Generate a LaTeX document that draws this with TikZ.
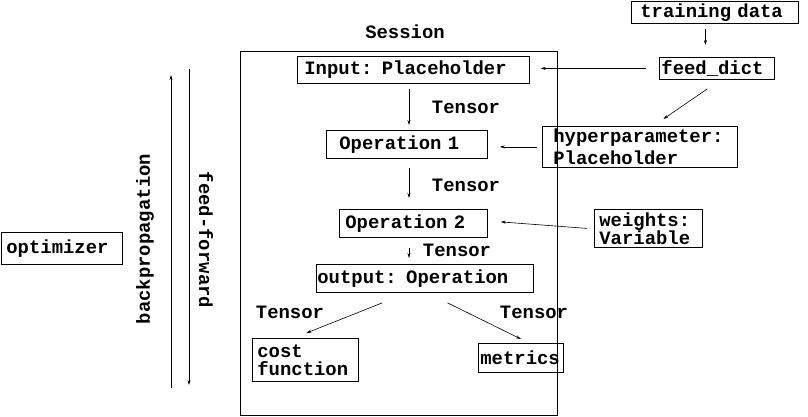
\documentclass[tikz,border=0pt]{standalone}
\usepackage{fontspec}
\newfontfamily\cf{Liberation Mono}
\usetikzlibrary{arrows.meta}
\newcommand{\cfont}[1]{\cf\bfseries\fontsize{18.9}{#1}\selectfont\spaceskip=11.34pt\xspaceskip=11.34pt\relax}
\tikzset{
  box/.style={draw, line width=0.8pt, inner ysep=0pt, anchor=north west, align=left, font=\cfont{22}},
  lbl/.style={inner sep=0pt, font=\cfont{22}},
  arr/.style={-{Stealth[length=5pt,width=3pt]}, line width=0.6pt},
}
\begin{document}
\begin{tikzpicture}[x=1pt,y=-1pt]
\useasboundingbox (0,0) rectangle (808,417);
% session frame
\node[draw, line width=0.8pt, inner sep=0pt, anchor=north west, minimum width=317pt, minimum height=364pt] (session) at (240,51) {};
\node[lbl] (sessionlbl) at (405,32) {Session};
% boxes
\node[box, inner xsep=9pt, text width=149pt, minimum height=22pt] (train) at (631,1) {training data};
\node[box, inner xsep=2pt, text width=111pt, minimum height=22pt] (feed) at (659,57) {feed\_dict};
\node[box, inner xsep=7pt, text width=218pt, minimum height=27pt] (input) at (297,56) {Input: Placeholder};
\node[box, inner xsep=13pt, text width=135pt, minimum height=28pt] (op1) at (326,130) {Operation 1};
\node[box, inner xsep=6pt, text width=136pt, minimum height=28pt] (op2) at (339,209) {Operation 2};
\node[box, inner xsep=1pt, text width=215pt, minimum height=28pt] (output) at (316,264) {output: Operation};
\node[box, inner xsep=11pt, text width=173pt, minimum height=41pt, font=\cfont{22}] (hyper) at (542,126) {hyperparameter:\\Placeholder};
\node[box, inner xsep=5pt, text width=98pt, minimum height=38pt, font=\cfont{18}] (weights) at (594,209) {weights:\\Variable};
\node[box, inner xsep=5pt, text width=96pt, minimum height=43pt, font=\cfont{18}] (cost) at (252,338) {cost\\function};
\node[box, inner xsep=2pt, text width=81pt, minimum height=29pt] (metrics) at (478,343) {metrics};
\node[box, inner xsep=5pt, text width=111pt, minimum height=32pt] (optimizer) at (1,232) {optimizer};
% tensor labels
\node[lbl] (t1) at (466,107) {Tensor};
\node[lbl] (t2) at (466,185) {Tensor};
\node[lbl] (t3) at (457,250) {Tensor};
\node[lbl] (t4) at (290,312) {Tensor};
\node[lbl] (t5) at (534,312) {Tensor};
% rotated labels
\node[lbl, rotate=90] (bplbl) at (145,239) {backpropagation};
\node[lbl, rotate=-90] (fflbl) at (206,240) {feed-forward};
% connectors
\coordinate (spine) at (409,0);
\draw[arr] ([xshift=-9.5pt,yshift=-5pt]train.south) -- ([xshift=-11.5pt,yshift=12pt]feed.north);
\draw[arr] ([xshift=-13pt]feed.west) -- ([xshift=11pt]feed.west -| input.east);
\draw[arr] ([xshift=-9.5pt,yshift=-9pt]feed.south) -- ([xshift=23.5pt,yshift=7pt]hyper.north);
\draw[arr] ([xshift=-5pt]hyper.west) -- ([xshift=12pt]hyper.west -| op1.east);
\draw[arr] ([xshift=-7pt]weights.west) -- ([xshift=13pt,yshift=1.5pt]op2.east);
\draw[arr] ([yshift=-5pt]input.south -| spine) -- ([yshift=5pt]op1.north -| spine);
\draw[arr] ([yshift=-9pt]op1.south -| spine) -- ([yshift=11pt]op2.north -| spine);
\draw[arr] ([yshift=-10pt]op2.south -| spine) -- ([yshift=6pt]output.north -| spine);
\draw[arr] ([xshift=-42.5pt,yshift=-10pt]output.south) -- ([xshift=1pt,yshift=5pt]cost.north);
\draw[arr] ([xshift=22.5pt,yshift=-10pt]output.south) -- ([yshift=4pt]metrics.north);
\coordinate (bp0) at (171,388);
\coordinate (bp1) at (171,75);
\coordinate (ff0) at (189,69);
\coordinate (ff1) at (189,385);
\draw[arr] (bp0) -- (bp1);
\draw[arr] (ff0) -- (ff1);
\end{tikzpicture}
\end{document}
